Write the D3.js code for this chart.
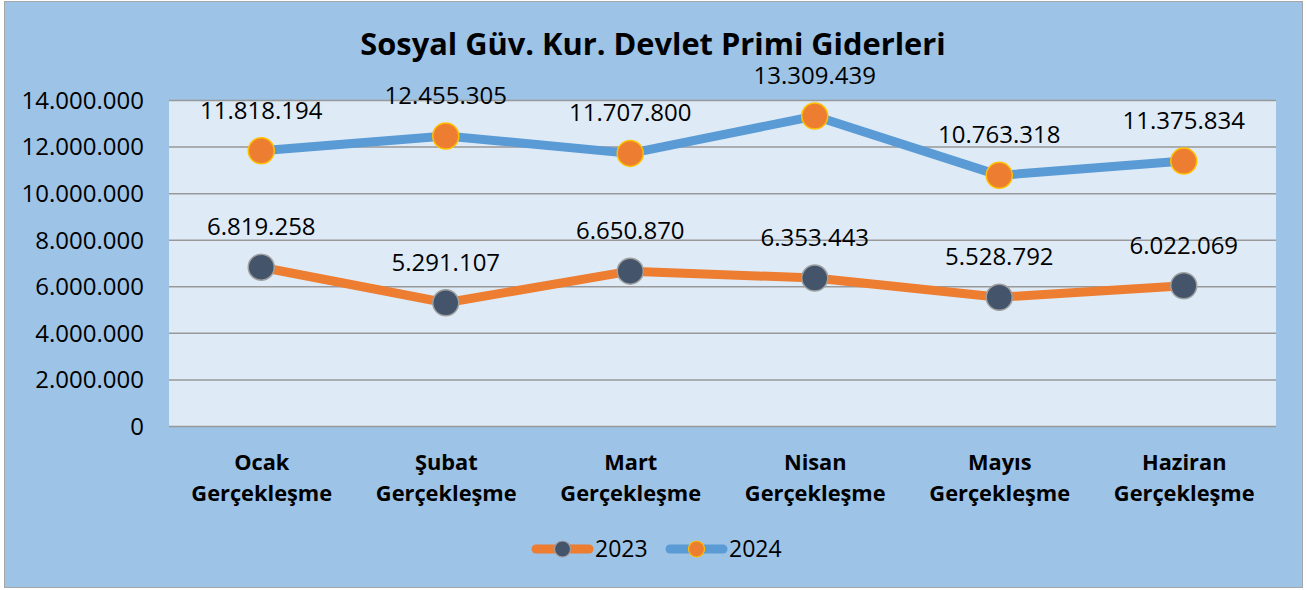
<!DOCTYPE html>
<html><head><meta charset="utf-8">
<script src="https://cdn.jsdelivr.net/npm/d3@7/dist/d3.min.js"></script>
<style>body{margin:0;background:#fff}svg{display:block}</style>
</head><body>
<script>
const categories = [["Ocak","Gerçekleşme"],["Şubat","Gerçekleşme"],["Mart","Gerçekleşme"],["Nisan","Gerçekleşme"],["Mayıs","Gerçekleşme"],["Haziran","Gerçekleşme"]];
const series2023 = [6819258, 5291107, 6650870, 6353443, 5528792, 6022069];
const series2024 = [11818194, 12455305, 11707800, 13309439, 10763318, 11375834];
const yTicks = [0, 2000000, 4000000, 6000000, 8000000, 10000000, 12000000, 14000000];
const title = "Sosyal Güv. Kur. Devlet Primi Giderleri";

const W = 1307, H = 590;
const fmt = v => v === 0 ? "0" : d3.format(",")(v).replace(/,/g, ".");
const svg = d3.select("body").append("svg").attr("width", W).attr("height", H);
const font = "'Open Sans', sans-serif";

svg.append("rect").attr("x", 4.5).attr("y", 1.5).attr("width", 1298).attr("height", 586)
  .attr("fill", "#9DC3E6").attr("stroke", "#A6A6A6").attr("stroke-width", 1);

const pl = 169, pr = 1276, pt = 100, pb = 426;
svg.append("rect").attr("x", pl).attr("y", pt).attr("width", pr - pl).attr("height", pb - pt).attr("fill", "#DEEBF7");

const x = d3.scalePoint().domain(d3.range(categories.length)).range([pl, pr]).padding(0.5);
const y = d3.scaleLinear().domain([0, 14000000]).range([pb, pt]);

const yAxis = svg.append("g").attr("transform", `translate(${pl},0)`)
  .call(d3.axisLeft(y).tickValues(yTicks).tickSize(-(pr - pl)).tickFormat(fmt));
yAxis.select(".domain").remove();
yAxis.selectAll(".tick line").attr("stroke", "#999").attr("stroke-width", 1.5);
yAxis.selectAll(".tick text").attr("x", -25).attr("dy", "0.35em").attr("fill", "#000")
  .style("font-family", font).style("font-size", "24px");

const xAxis = svg.append("g").attr("transform", `translate(0,${pb})`)
  .call(d3.axisBottom(x).tickSize(0).tickFormat(""));
xAxis.select(".domain").remove();
xAxis.selectAll(".tick").each(function(d) {
  const t = d3.select(this).append("text").attr("fill", "#000").attr("text-anchor", "middle")
    .style("font-family", font).style("font-size", "21.8px").style("font-weight", "bold");
  t.append("tspan").attr("x", 0).attr("y", 44).text(categories[d][0]);
  t.append("tspan").attr("x", 0).attr("y", 75).text(categories[d][1]);
});

const line = d3.line().x((d, i) => x(i)).y(d => y(d));
function drawSeries(data, lineColor, dotFill, dotStroke) {
  svg.append("path").datum(data).attr("d", line).attr("fill", "none")
    .attr("stroke", lineColor).attr("stroke-width", 9).attr("stroke-linejoin", "round");
  svg.append("g").selectAll("circle").data(data).join("circle")
    .attr("cx", (d, i) => x(i)).attr("cy", d => y(d)).attr("r", 13)
    .attr("fill", dotFill).attr("stroke", dotStroke).attr("stroke-width", 1.5);
  svg.append("g").selectAll("text").data(data).join("text")
    .attr("x", (d, i) => x(i)).attr("y", d => y(d) - 32).attr("text-anchor", "middle")
    .style("font-family", font).style("font-size", "24px").attr("fill", "#000").text(fmt);
}
drawSeries(series2023, "#ED7D31", "#44546A", "#A0A0A0");
drawSeries(series2024, "#5B9BD5", "#ED7D31", "#FFC000");

svg.append("text").attr("x", 653).attr("y", 55).attr("text-anchor", "middle")
  .style("font-family", font).style("font-size", "30.8px").style("font-weight", "bold").text(title);

const legend = [{label: "2023", lc: "#ED7D31", df: "#44546A", ds: "#A0A0A0", x0: 536},
                {label: "2024", lc: "#5B9BD5", df: "#ED7D31", ds: "#FFC000", x0: 670}];
const lg = svg.append("g");
legend.forEach(l => {
  lg.append("line").attr("x1", l.x0).attr("x2", l.x0 + 53).attr("y1", 549).attr("y2", 549)
    .attr("stroke", l.lc).attr("stroke-width", 9).attr("stroke-linecap", "round");
  lg.append("circle").attr("cx", l.x0 + 26.5).attr("cy", 549).attr("r", 8).attr("fill", l.df)
    .attr("stroke", l.ds).attr("stroke-width", 1.2);
  lg.append("text").attr("x", l.x0 + 59).attr("y", 549).attr("dy", "0.35em")
    .style("font-family", font).style("font-size", "23px").text(l.label);
});
</script>
</body></html>
